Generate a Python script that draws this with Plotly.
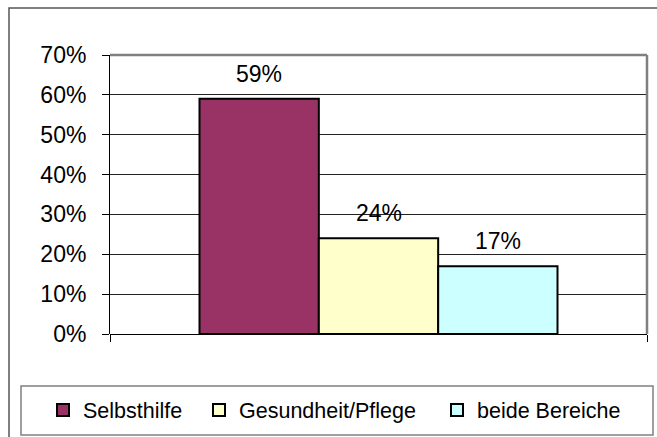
import plotly.graph_objects as go

# ---- data ----
categories = [""]
series_names = ["Selbsthilfe", "Gesundheit/Pflege", "beide Bereiche"]
series_values = [0.59, 0.24, 0.17]
series_colors = ["#993366", "#FFFFCC", "#CCFFFF"]
y_ticks = [0, 0.1, 0.2, 0.3, 0.4, 0.5, 0.6, 0.7]

W, H = 657, 437
L, R, T, B = 110, 10, 55, 103
pw = W - L - R
ph = H - T - B

def px_x(px):
    return (px - L) / pw

def px_y(py):
    return (H - B - py) / ph

FONT = "Arial, 'Liberation Sans', sans-serif"

fig = go.Figure()
legend_ids = ["legend", "legend2", "legend3"]
for i, (name, val, col) in enumerate(zip(series_names, series_values, series_colors)):
    fig.add_trace(go.Bar(
        x=categories, y=[val], name=name,
        marker=dict(color=col, line=dict(color="black", width=2)),
        legend=legend_ids[i],
    ))

# data labels above bars (positions derived from the group layout)
bargap = 1 / 3
n = len(series_names)
bw = (1 - bargap) / n
for i, val in enumerate(series_values):
    xc = -0.5 + bargap / 2 + bw * (i + 0.5)
    fig.add_annotation(x=xc, y=val, xref="x", yref="y", text=f"{round(val*100)}%",
                       showarrow=False, yanchor="middle", yshift=25,
                       font=dict(family=FONT, size=23, color="black"))

legend_item_px = [43, 199, 437]
common_leg = dict(orientation="h", xanchor="left", yanchor="middle", y=px_y(410),
                  bgcolor="rgba(0,0,0,0)", borderwidth=0,
                  font=dict(family=FONT, size=21.5, color="black"))
fig.update_layout(
    legend=dict(x=px_x(legend_item_px[0]), **common_leg),
    legend2=dict(x=px_x(legend_item_px[1]), **common_leg),
    legend3=dict(x=px_x(legend_item_px[2]), **common_leg),
)

shapes = [
    # outer chart frame
    dict(type="rect", xref="paper", yref="paper", x0=px_x(9), x1=px_x(665), y0=px_y(445), y1=px_y(8),
         line=dict(color="#555555", width=1.5), layer="below"),
    # legend box
    dict(type="rect", xref="paper", yref="paper", x0=px_x(21), x1=px_x(653), y0=px_y(435), y1=px_y(386),
         line=dict(color="#808080", width=1.5)),
    # plot area top/right border
    dict(type="line", xref="paper", yref="paper", x0=0, x1=1, y0=1, y1=1,
         line=dict(color="#808080", width=2.5)),
    dict(type="line", xref="paper", yref="paper", x0=1, x1=1, y0=0, y1=1,
         line=dict(color="#808080", width=2.5)),
]

fig.update_layout(
    width=W, height=H,
    margin=dict(l=L, r=R, t=T, b=B, autoexpand=False),
    paper_bgcolor="white", plot_bgcolor="white",
    barmode="group", bargap=bargap, bargroupgap=0,
    showlegend=True,
    shapes=shapes,
    font=dict(family=FONT, color="black"),
    xaxis=dict(
        range=[-0.5, 0.5], showticklabels=False, showgrid=False,
        ticks="outside", tickson="boundaries", ticklen=7, tickcolor="black", tickwidth=1,
        showline=False, zeroline=False, fixedrange=True,
    ),
    yaxis=dict(
        range=[0, 0.7], tickvals=y_ticks, tickformat=".0%",
        showgrid=True, gridcolor="#222222", gridwidth=1,
        zeroline=True, zerolinecolor="black", zerolinewidth=1,
        showline=True, linecolor="black", linewidth=1,
        ticks="outside", ticklen=7, tickcolor="black", tickwidth=1,
        ticklabelstandoff=11,
        tickfont=dict(family=FONT, size=23, color="black"),
    ),
)

fig.write_html(
    "out.html",
    config={"displayModeBar": False},
    post_script="document.body.style.margin='0';document.body.style.padding='0';"
                "document.body.style.overflow='hidden';",
)
